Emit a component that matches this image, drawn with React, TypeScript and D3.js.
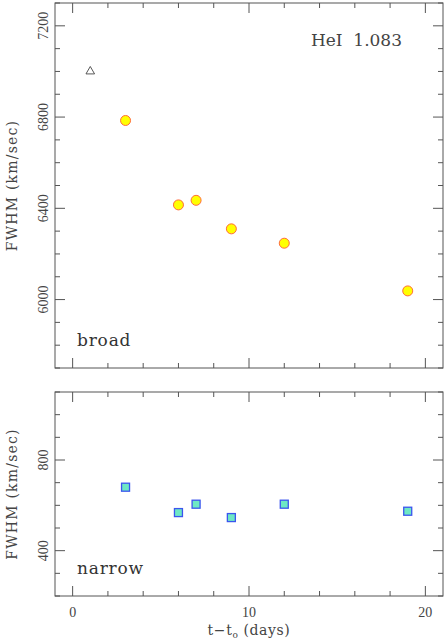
import { useEffect, useRef } from 'react';
import * as d3 from 'd3';

// broad component, HeI 1.083
const broadDays = [3, 6, 7, 9, 12, 19];
const broadFwhm = [6785, 6415, 6435, 6310, 6247, 6038];
const triDays = [1];
const triFwhm = [7000];
// narrow component
const narrowDays = [3, 6, 7, 9, 12, 19];
const narrowFwhm = [680, 568, 605, 546, 605, 574];

const xTicks = [0, 10, 20];
const broadTicks = [6000, 6400, 6800, 7200];
const narrowTicks = [400, 800];

const W = 447;
const H = 642;
const left = 55;
const right = 443;
const axisColor = '#555';
const textColor = '#444';

function App() {
  const ref = useRef<SVGSVGElement | null>(null);

  useEffect(() => {
    const svg = d3.select(ref.current);
    svg.selectAll('*').remove();

    const x = d3.scaleLinear().domain([-1, 21]).range([left, right]);

    const panel = (top: number, bottom: number, domain: number[], labels: number[], step: number, name: string) => {
      const y = d3.scaleLinear().domain(domain).range([bottom, top]);
      const g = svg.append('g');
      g.append('rect')
        .attr('x', left).attr('y', top)
        .attr('width', right - left).attr('height', bottom - top)
        .attr('fill', 'none').attr('stroke', axisColor).attr('stroke-width', 1);

      // x ticks, top and bottom
      const xt = d3.range(0, 21, 2);
      xt.forEach((t) => {
        const len = t % 10 === 0 ? 10 : 5;
        g.append('line').attr('x1', x(t)).attr('x2', x(t)).attr('y1', bottom).attr('y2', bottom - len)
          .attr('stroke', axisColor);
        g.append('line').attr('x1', x(t)).attr('x2', x(t)).attr('y1', top).attr('y2', top + len)
          .attr('stroke', axisColor);
      });
      // y ticks, left and right
      const yt = d3.range(Math.ceil(domain[0] / step) * step, domain[1] + 1, step);
      yt.forEach((t) => {
        const len = labels.includes(t) ? 10 : 5;
        g.append('line').attr('x1', left).attr('x2', left + len).attr('y1', y(t)).attr('y2', y(t))
          .attr('stroke', axisColor);
        g.append('line').attr('x1', right).attr('x2', right - len).attr('y1', y(t)).attr('y2', y(t))
          .attr('stroke', axisColor);
      });
      labels.forEach((t) => {
        g.append('text')
          .attr('transform', `translate(48,${y(t)}) rotate(-90)`)
          .attr('text-anchor', 'middle')
          .attr('font-family', 'Liberation Serif')
          .attr('font-size', 14)
          .attr('fill', textColor)
          .text(t);
      });
      g.append('text')
        .attr('transform', `translate(17,${(top + bottom) / 2}) rotate(-90)`)
        .attr('text-anchor', 'middle')
        .attr('font-family', 'DejaVu Serif')
        .attr('font-size', 14)
        .attr('letter-spacing', 1.2)
        .attr('fill', textColor)
        .text('FWHM (km/sec)');
      g.append('text')
        .attr('x', 77).attr('y', bottom - 22)
        .attr('font-family', 'DejaVu Serif')
        .attr('font-size', 17)
        .attr('letter-spacing', 0.8)
        .attr('fill', '#333')
        .text(name);
      return y;
    };

    const yb = panel(3, 368, [5700, 7300], broadTicks, 100, 'broad');
    const yn = panel(392, 596, [200, 1100], narrowTicks, 100, 'narrow');

    svg.append('text')
      .attr('x', 402).attr('y', 46)
      .attr('text-anchor', 'end')
      .attr('font-family', 'DejaVu Serif')
      .attr('font-size', 17)
      .attr('fill', textColor)
      .attr('xml:space', 'preserve')
      .text('HeI  1.083');

    const tri = d3.symbol().type(d3.symbolTriangle).size(32);
    svg.append('g').selectAll('path')
      .data(triDays)
      .enter()
      .append('path')
      .attr('transform', (d, i) => `translate(${x(d)},${yb(triFwhm[i])})`)
      .attr('d', tri)
      .attr('fill', 'none')
      .attr('stroke', textColor)
      .attr('stroke-width', 0.9);

    svg.append('g').selectAll('circle')
      .data(broadDays)
      .enter()
      .append('circle')
      .attr('cx', (d) => x(d))
      .attr('cy', (d, i) => yb(broadFwhm[i]))
      .attr('r', 5)
      .attr('fill', '#ffff00')
      .attr('stroke', '#ff6a3d')
      .attr('stroke-width', 1);

    svg.append('g').selectAll('rect')
      .data(narrowDays)
      .enter()
      .append('rect')
      .attr('x', (d) => x(d) - 4)
      .attr('y', (d, i) => yn(narrowFwhm[i]) - 4)
      .attr('width', 8)
      .attr('height', 8)
      .attr('fill', '#6ee8c4')
      .attr('stroke', '#3b55ee')
      .attr('stroke-width', 1.3);

    xTicks.forEach((t) => {
      svg.append('text')
        .attr('x', x(t)).attr('y', 617)
        .attr('text-anchor', 'middle')
        .attr('font-family', 'Liberation Serif')
        .attr('font-size', 14)
        .attr('fill', textColor)
        .text(t);
    });

    const xl = svg.append('text')
      .attr('x', (left + right) / 2).attr('y', 635)
      .attr('text-anchor', 'middle')
      .attr('font-family', 'DejaVu Serif')
      .attr('font-size', 14)
      .attr('letter-spacing', 0.6)
      .attr('fill', textColor);
    xl.append('tspan').text('t\u2212t');
    xl.append('tspan').attr('font-size', 9).attr('dy', 3).text('o');
    xl.append('tspan').attr('dy', -3).text(' (days)');
  }, []);

  return (
    <div style={{ position: 'absolute', left: 0, top: 0 }}>
      <svg ref={ref} width={W} height={H} style={{ display: 'block', background: '#fff' }} />
    </div>
  );
}

export default App;
